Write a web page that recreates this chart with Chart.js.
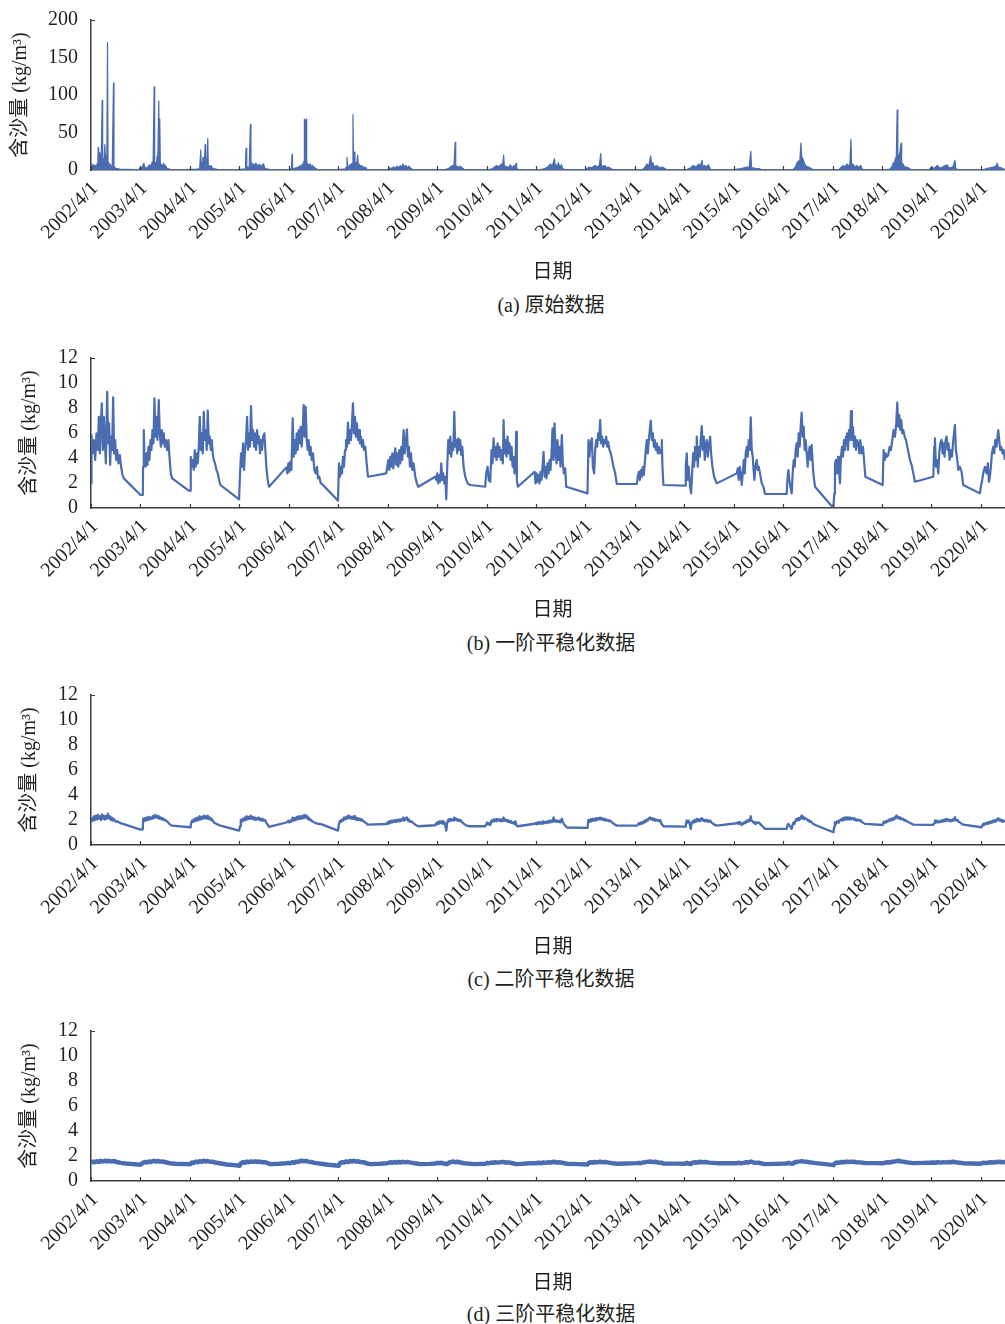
<!DOCTYPE html>
<html>
<head>
<meta charset="utf-8">
<script src="https://cdn.jsdelivr.net/npm/chart.js@4.4.1/dist/chart.umd.min.js"></script>
<style>
  html, body { margin: 0; padding: 0; background: #fff; overflow: hidden; }
  #page { position: relative; width: 1005px; height: 1324px; overflow: hidden; background: #fff; }
  .panel { position: absolute; left: 0; width: 1014px; height: 290px; }
  .caption { position: absolute; left: 401px; width: 300px; text-align: center; line-height: 24px;
             font: 20px "Liberation Serif", "Noto Sans CJK SC", serif; color: #231f20; }
</style>
</head>
<body>
<div id="page"></div>
<script>
// Tick labels on the date axis (one per hydrological year, starting 1 April)
const yearLabels = ['2002/4/1','2003/4/1','2004/4/1','2005/4/1','2006/4/1','2007/4/1','2008/4/1',
  '2009/4/1','2010/4/1','2011/4/1','2012/4/1','2013/4/1','2014/4/1','2015/4/1','2016/4/1',
  '2017/4/1','2018/4/1','2019/4/1','2020/4/1'];

const panelCaptions = ['(a) 原始数据', '(b) 一阶平稳化数据', '(c) 二阶平稳化数据', '(d) 三阶平稳化数据'];

// Sediment concentration (kg/m³) vs. decimal year — raw record
const rawSeries = [
[2002.253,5],[2002.27,8],[2002.29,3],[2002.307,7],[2002.325,4],[2002.341,6],[2002.36,3],[2002.375,9],[2002.388,4],[2002.395,30],[2002.405,8],[2002.422,23],[2002.432,10],[2002.442,21],[2002.455,6],[2002.476,93],[2002.486,10],[2002.496,15],[2002.51,5],[2002.530,34],[2002.543,9],[2002.557,19],[2002.57,6],[2002.584,170],[2002.595,8],[2002.610,10],[2002.625,4],[2002.644,8],[2002.66,3],[2002.68,5],[2002.705,116],[2002.715,4],[2002.725,4],[2002.75,2],[2002.779,2],[2002.85,1],[2002.914,1],[2003.217,0.5],
[2003.251,4],[2003.28,3],[2003.318,9],[2003.34,3],[2003.385,3],[2003.42,6],[2003.453,7],[2003.47,4],[2003.486,11],[2003.505,6],[2003.527,111],[2003.538,8],[2003.554,10],[2003.57,5],[2003.587,19],[2003.60,8],[2003.621,92],[2003.631,12],[2003.641,68],[2003.652,8],[2003.668,8],[2003.69,5],[2003.722,9],[2003.74,4],[2003.756,6],[2003.790,2],[2003.857,1],[2004.15,0.5],
[2004.261,1],[2004.35,1],[2004.430,1.5],[2004.45,3],[2004.470,27],[2004.48,5],[2004.490,10],[2004.50,4],[2004.517,17],[2004.53,6],[2004.545,8],[2004.558,34],[2004.568,6],[2004.578,15],[2004.59,5],[2004.612,42],[2004.622,6],[2004.639,6],[2004.66,3],[2004.679,6],[2004.70,3],[2004.733,2],[2004.80,1],[2005.2,0.5],
[2005.272,1],[2005.373,1.5],[2005.386,29],[2005.40,3],[2005.420,4],[2005.45,3],[2005.474,61],[2005.485,6],[2005.501,10],[2005.52,5],[2005.541,8],[2005.56,4],[2005.58,9],[2005.609,7],[2005.63,4],[2005.655,8],[2005.676,6],[2005.70,3],[2005.72,8],[2005.744,8],[2005.76,3],[2005.777,2],[2005.85,1],[2006.2,0.5],
[2006.283,1],[2006.305,2],[2006.316,21],[2006.326,2],[2006.350,2],[2006.40,3],[2006.451,4],[2006.48,6],[2006.50,4],[2006.518,8],[2006.535,5],[2006.552,10],[2006.560,12],[2006.566,68],[2006.580,60],[2006.592,66],[2006.606,68],[2006.613,12],[2006.620,10],[2006.64,5],[2006.66,8],[2006.687,8],[2006.71,4],[2006.73,6],[2006.754,4],[2006.822,1],[2007.2,0.5],
[2007.293,1],[2007.394,1.5],[2007.41,4],[2007.428,17],[2007.44,5],[2007.462,4],[2007.485,7],[2007.509,7],[2007.53,9],[2007.549,74],[2007.560,12],[2007.576,24],[2007.59,10],[2007.603,10],[2007.62,6],[2007.644,20],[2007.655,7],[2007.671,8],[2007.70,5],[2007.731,6],[2007.76,3],[2007.799,4],[2007.832,1],[2008.2,0.5],
[2008.270,1],[2008.30,3],[2008.33,2],[2008.371,4],[2008.40,2],[2008.439,5],[2008.47,3],[2008.506,6],[2008.53,3],[2008.56,8],[2008.59,4],[2008.62,6],[2008.65,3],[2008.68,5],[2008.72,2],[2008.76,1],[2009.3,0.5],
[2009.42,1],[2009.484,2],[2009.52,4],[2009.562,6],[2009.59,4],[2009.616,37],[2009.628,5],[2009.663,5],[2009.69,3],[2009.717,5],[2009.795,1],[2010.3,0.5],
[2010.379,2],[2010.41,4],[2010.457,6],[2010.50,4],[2010.551,8],[2010.575,5],[2010.597,20],[2010.61,5],[2010.652,5],[2010.69,3],[2010.730,7],[2010.77,3],[2010.808,6],[2010.83,3],[2010.847,9],[2010.86,2],[2010.885,1],[2011.35,0.5],
[2011.431,2],[2011.49,4],[2011.547,8],[2011.58,5],[2011.625,15],[2011.64,5],[2011.664,7],[2011.685,4],[2011.703,10],[2011.73,4],[2011.766,7],[2011.79,2],[2011.820,1],[2012.25,0.5],
[2012.326,4],[2012.38,3],[2012.443,6],[2012.50,4],[2012.535,7],[2012.560,22],[2012.575,6],[2012.610,5],[2012.638,6],[2012.68,3],[2012.716,4],[2012.793,1],[2013.35,0.5],
[2013.417,1],[2013.46,4],[2013.494,8],[2013.53,5],[2013.572,19],[2013.590,6],[2013.611,10],[2013.65,4],[2013.689,6],[2013.75,3],[2013.806,4],[2013.884,1],[2014.25,0.5],
[2014.312,1],[2014.38,3],[2014.429,6],[2014.49,4],[2014.546,8],[2014.58,5],[2014.608,13],[2014.63,4],[2014.663,6],[2014.70,4],[2014.741,7],[2014.780,1],[2015.25,0.5],
[2015.286,1],[2015.40,2],[2015.519,4],[2015.56,3],[2015.597,25],[2015.610,3],[2015.636,3],[2015.70,2],[2015.753,2],[2015.80,1],[2016.3,0.5],
[2016.454,1],[2016.50,4],[2016.532,10],[2016.57,12],[2016.590,14],[2016.610,36],[2016.625,18],[2016.649,15],[2016.687,8],[2016.72,5],[2016.765,4],[2016.843,1],[2017.3,0.5],
[2017.388,1],[2017.43,4],[2017.466,6],[2017.50,4],[2017.544,8],[2017.58,5],[2017.600,8],[2017.622,41],[2017.635,6],[2017.661,8],[2017.70,4],[2017.739,6],[2017.78,3],[2017.817,6],[2017.856,1],[2018.3,0.5],
[2018.401,1],[2018.45,4],[2018.479,10],[2018.50,8],[2018.518,15],[2018.540,18],[2018.557,80],[2018.570,20],[2018.596,19],[2018.615,25],[2018.635,36],[2018.648,10],[2018.674,8],[2018.71,4],[2018.752,4],[2018.830,1],[2019.2,0.5],
[2019.258,4],[2019.30,2],[2019.374,6],[2019.41,3],[2019.452,3],[2019.50,5],[2019.569,7],[2019.60,3],[2019.647,3],[2019.69,5],[2019.725,13],[2019.74,3],[2019.764,1],[2020.3,0.5],
[2020.426,3],[2020.50,4],[2020.55,5],[2020.582,9],[2020.60,4],[2020.659,3],[2020.722,1],[2020.80,1]
];

// First-order stationarised series
const firstOrder = [
[2002.253,1.97],[2002.260,5.84],[2002.280,4.37],[2002.307,5.44],[2002.334,3.84],[2002.361,5.97],[2002.388,4.64],[2002.408,7.3],[2002.429,4.37],[2002.449,6.77],[2002.469,8.37],[2002.489,4.64],[2002.509,7.3],[2002.530,5.44],[2002.550,3.57],[2002.577,9.3],[2002.597,5.17],[2002.617,6.77],[2002.637,3.44],[2002.658,5.71],[2002.678,4.64],[2002.698,8.85],[2002.718,4.37],[2002.738,5.44],[2002.759,3.84],[2002.779,4.64],[2002.806,3.57],[2002.833,4.24],[2002.860,3.3],[2002.887,2.64],[2002.914,2.37],[2003.251,1.04],[2003.298,1.04],
[2003.304,3.3],[2003.318,6.24],[2003.331,4.1],[2003.352,3.3],[2003.372,4.37],[2003.392,3.44],[2003.412,4.9],[2003.432,3.84],[2003.453,5.44],[2003.473,4.64],[2003.493,6.24],[2003.513,5.17],[2003.533,8.77],[2003.554,5.71],[2003.574,7.3],[2003.594,5.44],[2003.621,8.64],[2003.641,5.97],[2003.662,4.9],[2003.682,6.24],[2003.702,5.17],[2003.722,5.97],[2003.742,4.9],[2003.763,5.44],[2003.790,4.64],[2003.816,5.44],[2003.837,4.1],[2003.864,2.77],[2003.891,2.37],[2004.228,1.39],[2004.255,1.39],
[2004.268,4.1],[2004.288,3.3],[2004.309,3.84],[2004.329,3.04],[2004.349,4.64],[2004.369,3.3],[2004.389,4.37],[2004.410,3.57],[2004.430,4.9],[2004.450,7.3],[2004.470,4.64],[2004.490,5.97],[2004.511,4.37],[2004.531,7.7],[2004.551,5.44],[2004.571,6.24],[2004.591,4.64],[2004.612,7.79],[2004.632,5.17],[2004.652,5.71],[2004.672,4.64],[2004.692,5.44],[2004.713,4.37],[2004.733,3.84],[2004.760,3.57],[2004.787,3.04],[2004.814,2.77],[2004.841,2.24],[2004.868,1.84],[2005.245,0.69],
[2005.265,2.77],[2005.285,4.37],[2005.306,3.3],[2005.326,5.17],[2005.346,3.04],[2005.366,4.64],[2005.386,5.44],[2005.407,7.3],[2005.427,4.64],[2005.447,5.97],[2005.467,4.9],[2005.487,8.16],[2005.508,5.44],[2005.528,6.24],[2005.548,4.9],[2005.568,5.97],[2005.588,4.64],[2005.609,6.24],[2005.629,5.17],[2005.649,5.71],[2005.669,4.37],[2005.689,5.44],[2005.710,4.64],[2005.730,5.71],[2005.757,5.97],[2005.777,4.64],[2005.797,3.3],[2005.824,2.24],[2005.851,1.7],[2006.202,3.25],
[2006.222,2.77],[2006.242,3.57],[2006.262,2.9],[2006.282,3.7],[2006.303,3.04],[2006.330,7.17],[2006.350,4.1],[2006.370,5.44],[2006.390,4.37],[2006.411,5.97],[2006.431,4.64],[2006.451,6.24],[2006.471,5.17],[2006.491,6.5],[2006.512,4.9],[2006.532,6.24],[2006.552,8.24],[2006.572,5.71],[2006.592,8.1],[2006.613,5.44],[2006.633,4.64],[2006.653,5.44],[2006.673,4.24],[2006.693,4.9],[2006.714,3.84],[2006.741,4.37],[2006.768,3.04],[2006.795,2.77],[2006.822,3.3],[2006.842,2.37],[2006.869,2.5],[2006.896,1.97],[2006.923,1.92],[2007.246,0.59],
[2007.266,3.57],[2007.287,2.5],[2007.307,3.3],[2007.327,2.77],[2007.347,4.1],[2007.367,3.3],[2007.388,4.64],[2007.408,5.44],[2007.428,4.9],[2007.448,6.83],[2007.468,5.17],[2007.489,6.24],[2007.509,5.44],[2007.529,6.77],[2007.549,8.37],[2007.569,5.97],[2007.590,7.3],[2007.610,5.71],[2007.630,6.77],[2007.650,5.44],[2007.671,6.24],[2007.691,5.17],[2007.711,5.71],[2007.731,4.9],[2007.751,5.44],[2007.772,4.64],[2007.799,4.9],[2007.826,3.57],[2007.853,2.5],[2008.223,2.77],
[2008.243,3.3],[2008.263,3.84],[2008.284,3.04],[2008.304,4.1],[2008.324,3.3],[2008.344,4.37],[2008.365,3.17],[2008.385,4.1],[2008.405,4.77],[2008.425,3.44],[2008.445,4.37],[2008.466,3.3],[2008.486,4.64],[2008.506,3.57],[2008.526,4.9],[2008.546,3.84],[2008.573,6.24],[2008.594,4.37],[2008.614,5.17],[2008.641,6.29],[2008.661,4.1],[2008.681,4.9],[2008.701,3.3],[2008.722,4.37],[2008.749,3.04],[2008.776,3.57],[2008.809,2.5],[2008.843,1.97],[2008.870,1.7],[2009.214,2.5],
[2009.234,2.24],[2009.254,2.77],[2009.274,1.97],[2009.294,2.64],[2009.315,2.1],[2009.335,3.57],[2009.355,2.24],[2009.375,2.77],[2009.396,1.97],[2009.416,2.5],[2009.436,0.69],[2009.456,3.3],[2009.476,5.44],[2009.497,4.37],[2009.517,5.71],[2009.537,4.1],[2009.557,5.17],[2009.578,4.64],[2009.598,7.7],[2009.618,4.9],[2009.638,5.44],[2009.658,4.37],[2009.679,5.57],[2009.699,4.64],[2009.719,5.44],[2009.739,4.24],[2009.760,4.9],[2009.786,3.3],[2009.820,2.5],[2009.867,1.97],[2009.921,1.84],[2010.224,1.7],
[2010.245,2.77],[2010.272,3.3],[2010.298,2.24],[2010.325,2.1],[2010.352,4.64],[2010.372,3.57],[2010.393,5.57],[2010.413,4.1],[2010.433,4.9],[2010.453,3.84],[2010.474,5.17],[2010.494,4.1],[2010.514,4.9],[2010.541,3.84],[2010.561,4.64],[2010.581,3.57],[2010.595,7.04],[2010.615,4.37],[2010.635,5.44],[2010.656,4.1],[2010.676,5.71],[2010.696,4.37],[2010.716,5.17],[2010.736,3.84],[2010.757,4.9],[2010.777,3.3],[2010.797,4.1],[2010.817,2.77],[2010.838,3.84],[2010.851,6.1],[2010.864,2.24],[2010.885,1.7],[2011.222,2.9],
[2011.242,1.97],[2011.262,2.77],[2011.282,2.1],[2011.303,2.64],[2011.323,1.97],[2011.343,2.9],[2011.363,2.24],[2011.383,3.3],[2011.404,4.5],[2011.424,2.5],[2011.444,3.3],[2011.464,2.37],[2011.485,3.57],[2011.505,2.77],[2011.525,3.84],[2011.545,3.04],[2011.565,4.37],[2011.586,6.37],[2011.606,3.84],[2011.626,6.77],[2011.646,4.64],[2011.666,3.57],[2011.687,5.44],[2011.707,3.84],[2011.727,4.9],[2011.747,3.3],[2011.774,5.84],[2011.794,3.57],[2011.815,2.77],[2011.842,3.17],[2011.862,1.7],[2012.293,1.17],
[2012.313,5.44],[2012.333,4.1],[2012.354,5.17],[2012.381,5.57],[2012.401,3.3],[2012.428,2.77],[2012.448,4.64],[2012.468,5.44],[2012.489,4.9],[2012.509,5.97],[2012.529,5.44],[2012.549,7.04],[2012.570,5.17],[2012.590,5.71],[2012.610,4.9],[2012.630,5.44],[2012.650,5.17],[2012.671,5.71],[2012.691,4.9],[2012.711,5.3],[2012.738,4.64],[2012.765,4.37],[2012.792,3.84],[2012.819,3.3],[2012.853,2.77],[2012.886,1.92],[2013.290,1.92],
[2013.310,2.5],[2013.331,2.9],[2013.351,2.24],[2013.371,3.04],[2013.391,2.5],[2013.411,3.3],[2013.432,2.64],[2013.452,3.57],[2013.472,4.64],[2013.492,5.44],[2013.513,4.37],[2013.533,5.44],[2013.553,6.24],[2013.573,6.99],[2013.593,5.44],[2013.614,5.97],[2013.634,4.9],[2013.654,5.44],[2013.674,4.64],[2013.694,5.17],[2013.715,4.37],[2013.735,4.9],[2013.762,4.37],[2013.782,4.64],[2013.796,5.44],[2013.809,3.3],[2013.829,1.84],[2014.267,1.79],
[2014.281,3.3],[2014.301,4.37],[2014.321,2.24],[2014.341,3.3],[2014.368,1.7],[2014.389,1.17],[2014.409,2.77],[2014.429,4.37],[2014.449,3.3],[2014.469,4.9],[2014.490,3.84],[2014.503,5.71],[2014.523,3.3],[2014.544,4.9],[2014.564,4.1],[2014.584,5.44],[2014.604,6.56],[2014.624,4.64],[2014.645,5.71],[2014.665,3.84],[2014.685,4.9],[2014.705,5.44],[2014.726,4.1],[2014.746,4.9],[2014.773,5.71],[2014.793,4.37],[2014.820,3.3],[2014.854,2.5],[2014.907,1.97],[2015.312,2.77],
[2015.332,3.17],[2015.352,2.24],[2015.372,3.3],[2015.392,2.77],[2015.413,1.84],[2015.433,2.77],[2015.453,3.84],[2015.473,2.77],[2015.493,4.37],[2015.514,4.9],[2015.534,4.1],[2015.554,5.44],[2015.574,4.64],[2015.595,7.25],[2015.615,4.64],[2015.635,4.1],[2015.648,3.3],[2015.669,2.24],[2015.689,3.3],[2015.716,3.84],[2015.736,3.04],[2015.756,3.3],[2015.783,2.77],[2015.817,1.97],[2015.851,1.7],[2015.884,1.12],[2016.322,1.12],
[2016.336,2.24],[2016.356,3.04],[2016.376,2.24],[2016.396,1.7],[2016.423,1.17],[2016.443,2.77],[2016.464,3.84],[2016.484,3.3],[2016.504,4.64],[2016.524,5.17],[2016.545,4.1],[2016.565,5.97],[2016.585,4.9],[2016.605,6.5],[2016.625,7.63],[2016.646,5.71],[2016.666,6.5],[2016.686,4.64],[2016.706,5.44],[2016.726,4.37],[2016.747,3.3],[2016.767,4.37],[2016.787,4.9],[2016.807,3.84],[2016.828,5.04],[2016.848,3.57],[2016.861,2.77],[2016.895,1.7],[2017.265,0],
[2017.286,1.17],[2017.299,3.57],[2017.319,3.84],[2017.340,2.77],[2017.360,4.1],[2017.380,3.04],[2017.400,1.97],[2017.420,4.1],[2017.441,4.9],[2017.461,4.1],[2017.481,5.44],[2017.501,4.64],[2017.522,5.71],[2017.542,5.97],[2017.562,4.64],[2017.582,6.24],[2017.602,5.44],[2017.623,7.76],[2017.643,5.44],[2017.663,6.5],[2017.683,4.9],[2017.703,5.71],[2017.724,4.64],[2017.744,5.44],[2017.771,5.17],[2017.791,4.37],[2017.811,5.44],[2017.838,4.37],[2017.865,4.9],[2017.892,3.57],[2017.913,2.5],[2018.263,1.84],
[2018.283,4.64],[2018.303,3.84],[2018.323,4.37],[2018.350,4.1],[2018.377,4.24],[2018.404,4.9],[2018.431,4.64],[2018.458,5.44],[2018.485,6.24],[2018.512,5.71],[2018.539,6.77],[2018.559,8.43],[2018.580,6.5],[2018.600,7.44],[2018.620,6.24],[2018.640,7.04],[2018.660,5.97],[2018.681,6.24],[2018.708,5.71],[2018.735,5.44],[2018.762,4.9],[2018.789,4.37],[2018.816,3.84],[2018.849,3.44],[2018.883,2.77],[2018.917,2.1],[2019.287,2.5],
[2019.307,4.9],[2019.321,5.57],[2019.341,3.3],[2019.361,3.84],[2019.388,2.77],[2019.408,4.37],[2019.429,5.17],[2019.456,5.44],[2019.476,4.37],[2019.496,5.17],[2019.516,4.1],[2019.536,5.44],[2019.557,5.71],[2019.577,4.64],[2019.597,5.17],[2019.617,3.84],[2019.638,4.64],[2019.665,4.1],[2019.692,5.44],[2019.725,6.64],[2019.745,4.64],[2019.766,4.1],[2019.793,3.04],[2019.826,3.3],[2019.860,2.9],[2019.893,1.84],[2020.230,1.17],
[2020.250,1.7],[2020.277,2.24],[2020.297,2.77],[2020.331,3.3],[2020.365,2.77],[2020.392,3.57],[2020.412,2.1],[2020.432,2.5],[2020.453,3.3],[2020.473,4.37],[2020.500,4.9],[2020.520,4.37],[2020.540,5.44],[2020.567,4.9],[2020.601,6.24],[2020.621,5.44],[2020.641,4.64],[2020.661,4.9],[2020.688,4.37],[2020.709,4.64],[2020.736,3.84]
];

// Second-order stationarised series
const secondOrder = [
[2002.253,1.9],[2002.27,2.15],[2002.29,1.95],[2002.31,2.3],[2002.33,2.0],[2002.35,2.35],[2002.37,2.05],[2002.39,2.4],[2002.41,2.1],[2002.43,2.3],[2002.45,2.0],[2002.47,2.45],[2002.49,2.1],[2002.51,2.35],[2002.53,2.05],[2002.55,2.3],[2002.57,2.1],[2002.59,2.5],[2002.61,2.15],[2002.63,2.3],[2002.65,2.0],[2002.67,2.2],[2002.69,1.95],[2002.71,2.1],[2002.73,1.95],[2002.75,1.85],[2002.78,1.9],[2002.82,1.8],[2002.85,1.75],[2003.25,1.23],[2003.298,1.25],
[2003.305,2.1],[2003.32,1.9],[2003.34,2.15],[2003.36,1.95],[2003.38,2.2],[2003.40,2.0],[2003.42,2.25],[2003.44,2.05],[2003.46,2.2],[2003.48,2.1],[2003.50,2.3],[2003.52,2.15],[2003.54,2.4],[2003.56,2.2],[2003.58,2.35],[2003.60,2.15],[2003.62,2.3],[2003.64,2.1],[2003.66,2.2],[2003.68,2.05],[2003.70,2.15],[2003.72,2.0],[2003.74,2.05],[2003.76,1.95],[2003.79,1.9],[2003.82,1.75],[2003.86,1.6],[2003.89,1.55],[2004.255,1.42],
[2004.268,1.55],[2004.29,1.95],[2004.31,1.85],[2004.33,2.05],[2004.35,1.9],[2004.37,2.15],[2004.39,1.95],[2004.41,2.2],[2004.43,2.0],[2004.45,2.3],[2004.47,2.05],[2004.49,2.25],[2004.51,2.1],[2004.53,2.35],[2004.55,2.15],[2004.57,2.3],[2004.59,2.1],[2004.61,2.35],[2004.63,2.1],[2004.65,2.2],[2004.67,2.0],[2004.69,2.1],[2004.72,1.9],[2004.75,1.75],[2004.79,1.7],[2004.83,1.6],[2004.87,1.55],[2005.245,1.15],
[2005.265,1.5],[2005.28,2.0],[2005.30,1.85],[2005.32,2.1],[2005.34,1.95],[2005.36,2.2],[2005.38,2.0],[2005.40,2.3],[2005.42,2.05],[2005.44,2.25],[2005.46,2.1],[2005.48,2.35],[2005.50,2.1],[2005.52,2.25],[2005.54,2.05],[2005.56,2.2],[2005.58,2.0],[2005.60,2.15],[2005.62,2.05],[2005.64,2.2],[2005.66,2.0],[2005.68,2.1],[2005.70,1.95],[2005.72,2.1],[2005.74,1.95],[2005.77,2.0],[2005.80,1.75],[2005.85,1.45],[2006.202,1.8],
[2006.222,1.85],[2006.24,1.95],[2006.26,1.8],[2006.28,1.95],[2006.30,1.85],[2006.33,2.2],[2006.35,1.95],[2006.37,2.15],[2006.39,2.0],[2006.41,2.25],[2006.43,2.05],[2006.45,2.3],[2006.47,2.1],[2006.49,2.3],[2006.51,2.1],[2006.53,2.35],[2006.55,2.15],[2006.57,2.4],[2006.59,2.2],[2006.61,2.35],[2006.63,2.1],[2006.65,2.2],[2006.67,2.0],[2006.69,2.05],[2006.72,1.9],[2006.75,1.85],[2006.79,1.75],[2006.84,1.7],[2006.92,1.65],[2007.246,1.15],
[2007.266,1.7],[2007.29,1.95],[2007.31,1.85],[2007.33,2.05],[2007.35,1.95],[2007.37,2.2],[2007.39,2.05],[2007.41,2.25],[2007.43,2.1],[2007.45,2.35],[2007.47,2.15],[2007.49,2.3],[2007.51,2.1],[2007.53,2.25],[2007.55,2.1],[2007.57,2.3],[2007.59,2.05],[2007.61,2.2],[2007.63,2.0],[2007.65,2.15],[2007.67,2.0],[2007.69,2.1],[2007.71,1.95],[2007.73,2.05],[2007.76,1.9],[2007.80,1.8],[2007.85,1.63],[2008.22,1.68],
[2008.243,1.8],[2008.26,1.7],[2008.28,1.9],[2008.30,1.75],[2008.32,1.95],[2008.34,1.8],[2008.36,1.95],[2008.38,1.85],[2008.40,2.0],[2008.42,1.85],[2008.44,2.0],[2008.46,1.9],[2008.48,2.05],[2008.50,1.9],[2008.52,2.05],[2008.54,1.95],[2008.57,2.2],[2008.59,1.95],[2008.61,2.1],[2008.64,2.2],[2008.66,1.95],[2008.68,2.05],[2008.70,1.85],[2008.73,1.9],[2008.77,1.75],[2008.82,1.6],[2008.87,1.5],[2009.214,1.58],
[2009.234,1.75],[2009.25,1.65],[2009.27,1.85],[2009.29,1.7],[2009.31,1.9],[2009.33,1.75],[2009.35,1.9],[2009.37,1.7],[2009.39,1.85],[2009.41,1.7],[2009.436,1.15],[2009.456,1.8],[2009.48,2.05],[2009.50,1.9],[2009.52,2.1],[2009.54,1.95],[2009.56,2.05],[2009.58,1.95],[2009.60,2.2],[2009.62,2.0],[2009.64,2.1],[2009.66,1.95],[2009.68,2.05],[2009.70,1.9],[2009.72,2.0],[2009.75,1.85],[2009.79,1.7],[2009.85,1.55],[2009.92,1.5],[2010.224,1.5],
[2010.245,1.65],[2010.26,1.8],[2010.28,1.65],[2010.30,1.75],[2010.325,1.6],[2010.35,1.95],[2010.37,1.85],[2010.39,2.05],[2010.41,1.9],[2010.43,2.05],[2010.45,1.9],[2010.47,2.1],[2010.49,1.95],[2010.51,2.05],[2010.53,1.9],[2010.55,2.05],[2010.57,1.9],[2010.595,2.2],[2010.61,1.95],[2010.63,2.05],[2010.65,1.9],[2010.67,2.0],[2010.69,1.85],[2010.71,1.95],[2010.73,1.8],[2010.75,1.9],[2010.77,1.75],[2010.79,1.8],[2010.81,1.7],[2010.835,1.9],[2010.85,1.6],[2010.885,1.5],[2011.22,1.7],
[2011.24,1.75],[2011.26,1.65],[2011.28,1.8],[2011.30,1.7],[2011.32,1.85],[2011.34,1.7],[2011.36,1.8],[2011.38,1.7],[2011.40,1.9],[2011.42,1.75],[2011.44,1.85],[2011.46,1.75],[2011.48,1.9],[2011.50,1.8],[2011.52,1.95],[2011.54,1.8],[2011.56,1.95],[2011.58,1.85],[2011.606,2.2],[2011.62,1.9],[2011.64,2.0],[2011.66,1.85],[2011.68,1.95],[2011.70,1.85],[2011.72,1.95],[2011.74,1.8],[2011.775,2.1],[2011.79,1.85],[2011.83,1.6],[2011.876,1.4],[2012.293,1.37],
[2012.313,2.0],[2012.33,1.85],[2012.35,2.05],[2012.37,1.9],[2012.39,2.1],[2012.41,1.95],[2012.43,2.1],[2012.45,1.95],[2012.47,2.15],[2012.49,2.0],[2012.51,2.15],[2012.53,2.05],[2012.549,2.2],[2012.57,2.05],[2012.59,2.15],[2012.61,2.0],[2012.63,2.1],[2012.65,1.95],[2012.67,2.05],[2012.69,1.95],[2012.71,2.0],[2012.73,1.9],[2012.751,1.96],[2012.79,1.8],[2012.84,1.65],[2012.886,1.55],[2013.29,1.55],
[2013.31,1.6],[2013.33,1.75],[2013.35,1.65],[2013.37,1.8],[2013.39,1.7],[2013.41,1.85],[2013.43,1.75],[2013.45,1.95],[2013.47,1.85],[2013.49,2.05],[2013.51,1.95],[2013.53,2.1],[2013.56,2.2],[2013.58,2.05],[2013.60,2.15],[2013.62,2.0],[2013.64,2.1],[2013.66,1.95],[2013.68,2.05],[2013.70,1.95],[2013.72,2.0],[2013.74,1.9],[2013.762,2.0],[2013.79,1.7],[2013.83,1.5],[2014.268,1.47],
[2014.281,1.6],[2014.301,1.96],[2014.32,1.8],[2014.34,1.95],[2014.36,1.7],[2014.382,1.29],[2014.40,1.75],[2014.42,1.9],[2014.44,1.8],[2014.46,2.0],[2014.48,1.85],[2014.503,2.09],[2014.52,1.9],[2014.54,2.05],[2014.56,1.9],[2014.58,2.05],[2014.604,2.15],[2014.62,1.95],[2014.64,2.05],[2014.66,1.9],[2014.68,2.0],[2014.70,1.9],[2014.72,2.0],[2014.74,1.85],[2014.773,1.96],[2014.80,1.8],[2014.85,1.65],[2014.907,1.55],[2015.312,1.74],
[2015.33,1.8],[2015.35,1.7],[2015.37,1.85],[2015.39,1.7],[2015.41,1.6],[2015.43,1.75],[2015.446,1.69],[2015.47,1.85],[2015.49,1.75],[2015.51,1.95],[2015.53,1.85],[2015.547,2.01],[2015.57,1.9],[2015.595,2.3],[2015.61,1.95],[2015.63,1.9],[2015.65,1.8],[2015.665,1.85],[2015.682,1.69],[2015.70,1.8],[2015.72,1.75],[2015.75,1.82],[2015.78,1.7],[2015.81,1.6],[2015.85,1.42],[2015.885,1.29],[2016.322,1.29],
[2016.336,1.55],[2016.356,1.69],[2016.38,1.55],[2016.40,1.45],[2016.423,1.29],[2016.44,1.6],[2016.46,1.8],[2016.48,1.7],[2016.50,1.95],[2016.524,2.09],[2016.54,1.95],[2016.56,2.15],[2016.58,2.0],[2016.60,2.2],[2016.625,2.36],[2016.64,2.1],[2016.66,2.25],[2016.68,2.05],[2016.70,2.15],[2016.726,2.09],[2016.75,1.95],[2016.77,2.0],[2016.79,1.85],[2016.81,1.9],[2016.84,1.75],[2016.861,1.69],[2016.90,1.6],[2017.266,1.02],
[2017.286,1.5],[2017.299,1.82],[2017.32,1.7],[2017.34,1.9],[2017.36,1.8],[2017.38,1.95],[2017.40,1.96],[2017.42,2.05],[2017.44,1.95],[2017.46,2.15],[2017.48,2.0],[2017.50,2.2],[2017.52,2.05],[2017.535,2.22],[2017.55,2.05],[2017.57,2.2],[2017.59,2.05],[2017.61,2.2],[2017.63,2.05],[2017.65,2.15],[2017.67,2.15],[2017.69,2.0],[2017.71,2.1],[2017.73,1.95],[2017.75,2.05],[2017.78,1.95],[2017.805,2.01],[2017.84,1.85],[2017.88,1.75],[2017.906,1.69],[2018.263,1.6],
[2018.283,1.85],[2018.30,1.75],[2018.32,1.9],[2018.344,1.82],[2018.36,1.95],[2018.38,1.9],[2018.40,2.05],[2018.42,1.95],[2018.44,2.1],[2018.46,2.0],[2018.48,2.15],[2018.50,2.05],[2018.52,2.25],[2018.546,2.36],[2018.56,2.15],[2018.58,2.25],[2018.60,2.1],[2018.62,2.2],[2018.64,2.05],[2018.66,2.1],[2018.68,2.09],[2018.70,1.95],[2018.72,2.0],[2018.75,1.9],[2018.78,1.85],[2018.82,1.75],[2018.85,1.7],[2018.883,1.63],[2019.287,1.61],
[2019.307,1.75],[2019.321,1.96],[2019.34,1.8],[2019.36,1.95],[2019.38,1.8],[2019.40,1.9],[2019.422,1.82],[2019.44,1.95],[2019.46,1.85],[2019.48,2.0],[2019.50,1.9],[2019.52,2.05],[2019.54,1.9],[2019.557,2.09],[2019.58,1.95],[2019.60,2.05],[2019.62,1.9],[2019.64,2.0],[2019.66,1.9],[2019.68,2.05],[2019.70,1.95],[2019.725,2.22],[2019.74,2.0],[2019.76,1.95],[2019.78,2.0],[2019.80,1.85],[2019.826,1.82],[2019.86,1.7],[2019.893,1.63],[2020.264,1.42],
[2020.28,1.55],[2020.30,1.7],[2020.32,1.6],[2020.34,1.75],[2020.365,1.69],[2020.38,1.8],[2020.40,1.7],[2020.42,1.85],[2020.44,1.75],[2020.46,1.9],[2020.48,1.8],[2020.50,1.96],[2020.52,1.85],[2020.54,2.0],[2020.56,1.9],[2020.58,2.05],[2020.60,2.15],[2020.62,1.95],[2020.64,2.05],[2020.66,1.9],[2020.68,2.0],[2020.70,1.85],[2020.72,1.95],[2020.74,1.9]
];

// Third-order stationarised series
const thirdOrder = [
[2002.253,1.45],[2002.29,1.55],[2002.33,1.5],[2002.37,1.58],[2002.41,1.52],[2002.45,1.62],[2002.49,1.56],[2002.53,1.62],[2002.57,1.57],[2002.61,1.62],[2002.65,1.56],[2002.71,1.6],[2002.77,1.52],[2002.85,1.45],[2002.95,1.4],[2003.1,1.35],[2003.25,1.3],
[2003.30,1.45],[2003.34,1.52],[2003.38,1.48],[2003.42,1.56],[2003.46,1.52],[2003.52,1.62],[2003.56,1.56],[2003.60,1.6],[2003.64,1.55],[2003.70,1.56],[2003.76,1.5],[2003.84,1.42],[2003.95,1.38],[2004.1,1.36],[2004.26,1.35],
[2004.29,1.48],[2004.33,1.45],[2004.37,1.55],[2004.41,1.5],[2004.45,1.58],[2004.49,1.54],[2004.53,1.62],[2004.57,1.56],[2004.61,1.6],[2004.65,1.54],[2004.70,1.55],[2004.76,1.48],[2004.85,1.42],[2005.0,1.32],[2005.15,1.27],[2005.26,1.22],
[2005.28,1.42],[2005.32,1.5],[2005.36,1.46],[2005.40,1.55],[2005.44,1.5],[2005.48,1.56],[2005.54,1.54],[2005.58,1.57],[2005.62,1.52],[2005.66,1.55],[2005.72,1.5],[2005.78,1.5],[2005.84,1.4],[2005.88,1.35],[2006.05,1.38],[2006.2,1.42],
[2006.24,1.45],[2006.28,1.42],[2006.32,1.5],[2006.36,1.46],[2006.40,1.55],[2006.44,1.52],[2006.48,1.6],[2006.52,1.62],[2006.56,1.57],[2006.60,1.61],[2006.64,1.55],[2006.70,1.52],[2006.78,1.45],[2006.90,1.38],[2007.05,1.3],[2007.26,1.22],
[2007.29,1.45],[2007.33,1.5],[2007.37,1.48],[2007.41,1.56],[2007.45,1.52],[2007.49,1.6],[2007.53,1.56],[2007.56,1.62],[2007.60,1.56],[2007.64,1.58],[2007.70,1.52],[2007.76,1.5],[2007.84,1.4],[2007.90,1.35],[2008.1,1.38],[2008.23,1.42],
[2008.27,1.45],[2008.31,1.5],[2008.35,1.46],[2008.39,1.52],[2008.43,1.47],[2008.47,1.52],[2008.51,1.48],[2008.55,1.53],[2008.60,1.5],[2008.65,1.53],[2008.72,1.47],[2008.80,1.42],[2008.91,1.35],[2009.1,1.37],[2009.22,1.4],
[2009.26,1.45],[2009.30,1.42],[2009.34,1.46],[2009.38,1.4],[2009.45,1.35],[2009.50,1.48],[2009.54,1.52],[2009.58,1.56],[2009.62,1.5],[2009.66,1.54],[2009.72,1.48],[2009.80,1.42],[2009.99,1.35],[2010.23,1.38],
[2010.27,1.45],[2010.31,1.42],[2010.35,1.48],[2010.39,1.46],[2010.43,1.5],[2010.47,1.47],[2010.53,1.5],[2010.58,1.53],[2010.63,1.48],[2010.70,1.48],[2010.78,1.42],[2010.86,1.35],[2011.05,1.4],[2011.20,1.43],
[2011.25,1.42],[2011.30,1.46],[2011.35,1.42],[2011.40,1.48],[2011.45,1.45],[2011.50,1.5],[2011.56,1.48],[2011.61,1.54],[2011.66,1.48],[2011.72,1.5],[2011.78,1.46],[2011.88,1.38],[2012.1,1.35],[2012.29,1.32],
[2012.32,1.45],[2012.36,1.5],[2012.40,1.47],[2012.44,1.52],[2012.48,1.49],[2012.55,1.54],[2012.60,1.5],[2012.66,1.52],[2012.72,1.47],[2012.80,1.42],[2012.89,1.38],[2013.1,1.4],[2013.29,1.43],
[2013.33,1.45],[2013.37,1.42],[2013.41,1.48],[2013.45,1.5],[2013.50,1.53],[2013.56,1.56],[2013.61,1.51],[2013.66,1.54],[2013.72,1.48],[2013.78,1.46],[2013.83,1.4],[2014.05,1.39],[2014.27,1.38],
[2014.30,1.45],[2014.34,1.4],[2014.38,1.36],[2014.42,1.46],[2014.47,1.5],[2014.52,1.48],[2014.57,1.54],[2014.62,1.5],[2014.68,1.52],[2014.75,1.47],[2014.82,1.45],[2014.91,1.43],[2015.1,1.43],[2015.31,1.43],
[2015.35,1.46],[2015.40,1.42],[2015.45,1.45],[2015.50,1.5],[2015.55,1.48],[2015.60,1.56],[2015.65,1.48],[2015.70,1.45],[2015.76,1.46],[2015.82,1.4],[2015.88,1.35],[2016.1,1.37],[2016.32,1.4],
[2016.36,1.45],[2016.40,1.4],[2016.44,1.38],[2016.48,1.48],[2016.52,1.52],[2016.56,1.55],[2016.60,1.57],[2016.63,1.59],[2016.67,1.55],[2016.72,1.54],[2016.78,1.5],[2016.84,1.47],[2016.90,1.43],[2017.1,1.35],[2017.27,1.27],
[2017.30,1.42],[2017.33,1.48],[2017.38,1.46],[2017.43,1.52],[2017.48,1.5],[2017.53,1.55],[2017.58,1.52],[2017.63,1.55],[2017.67,1.54],[2017.73,1.5],[2017.80,1.49],[2017.90,1.44],[2018.1,1.43],[2018.28,1.43],
[2018.31,1.46],[2018.36,1.5],[2018.41,1.48],[2018.46,1.54],[2018.52,1.57],[2018.58,1.62],[2018.63,1.56],[2018.68,1.55],[2018.74,1.5],[2018.80,1.47],[2018.88,1.43],[2019.1,1.45],[2019.29,1.48],
[2019.33,1.46],[2019.38,1.5],[2019.43,1.47],[2019.48,1.5],[2019.54,1.49],[2019.60,1.52],[2019.65,1.5],[2019.69,1.54],[2019.74,1.5],[2019.82,1.46],[2019.90,1.42],[2020.05,1.4],[2020.23,1.38],
[2020.27,1.42],[2020.31,1.46],[2020.36,1.43],[2020.41,1.48],[2020.46,1.5],[2020.52,1.48],[2020.57,1.52],[2020.63,1.54],[2020.68,1.5],[2020.74,1.52]
];

// ---- drawing ----
const X_MIN = 2002.25;          // 2002/4/1
const X_MAX = 2020.92;
const LINE = '#4a6cb0';
const AXIS = '#3c3c3c';
const INK = '#231f20';
const FONT = { family: '"Liberation Serif", "Noto Sans CJK SC", serif', size: 20 };
const panelTops = [-5, 333, 670, 1006];
const captionTops = [289, 627, 963, 1298];

const panels = [
  { series: rawSeries,   yMax: 200, yStep: 50, width: 1.2, fill: true,  titlePad: 9 },
  { series: firstOrder,  yMax: 12,  yStep: 2,  width: 2.2, fill: false, titlePad: 18 },
  { series: secondOrder, yMax: 12,  yStep: 2,  width: 2.3, fill: false, titlePad: 18 },
  { series: thirdOrder,  yMax: 12,  yStep: 2,  width: 4.5, fill: false, titlePad: 18 }
];

// short inward tick marks on the date axis plus a cap at the top of the value axis
const innerTicks = {
  id: 'innerTicks',
  afterDraw(chart) {
    const { ctx, chartArea, scales: { x, y } } = chart;
    ctx.save();
    ctx.strokeStyle = AXIS;
    ctx.lineWidth = 1.2;
    ctx.beginPath();
    x.ticks.forEach((t, i) => {
      const px = Math.round(x.getPixelForTick(i)) + 0.5;
      ctx.moveTo(px, chartArea.bottom);
      ctx.lineTo(px, chartArea.bottom - 4);
    });
    const top = Math.round(y.getPixelForValue(y.max)) + 0.5;
    ctx.moveTo(chartArea.left, top);
    ctx.lineTo(chartArea.left + 4, top);
    ctx.stroke();
    ctx.restore();
  }
};

const page = document.getElementById('page');

panels.forEach((p, idx) => {
  const wrap = document.createElement('div');
  wrap.className = 'panel';
  wrap.style.top = panelTops[idx] + 'px';
  const cv = document.createElement('canvas');
  cv.width = 1014; cv.height = 290;
  cv.style.width = '1014px'; cv.style.height = '290px';
  wrap.appendChild(cv);
  page.appendChild(wrap);

  const cap = document.createElement('div');
  cap.className = 'caption';
  cap.style.top = captionTops[idx] + 'px';
  cap.textContent = panelCaptions[idx];
  page.appendChild(cap);

  new Chart(cv, {
    type: 'line',
    data: {
      datasets: [{
        data: p.series,
        borderColor: LINE,
        backgroundColor: LINE,
        borderWidth: p.width,
        fill: p.fill ? 'origin' : false,
        pointRadius: 0,
        tension: 0,
        borderJoinStyle: 'round'
      }]
    },
    options: {
      responsive: false,
      animation: false,
      events: [],
      layout: { padding: { top: 20, left: 0, right: 0, bottom: 0 } },
      plugins: { legend: { display: false }, tooltip: { enabled: false } },
      scales: {
        x: {
          type: 'linear',
          min: X_MIN,
          max: X_MAX,
          grid: { display: false, drawTicks: false },
          border: { display: true, color: AXIS, width: 1.5 },
          afterBuildTicks: s => { s.ticks = yearLabels.map((_, i) => ({ value: X_MIN + i })); },
          afterFit: s => { s.height = 115; },
          ticks: {
            autoSkip: false, minRotation: 45, maxRotation: 45, padding: 7, labelOffset: 4,
            font: FONT, color: INK,
            callback: (v, i) => yearLabels[i]
          },
          title: { display: true, text: '日期', font: FONT, color: INK, padding: { top: 0, bottom: 0 } }
        },
        y: {
          min: 0,
          max: p.yMax,
          grid: { display: false, drawTicks: false },
          border: { display: true, color: AXIS, width: 1.5 },
          afterFit: s => { s.width = 91; },
          ticks: { stepSize: p.yStep, autoSkip: false, padding: 13, font: FONT, color: INK },
          title: { display: true, text: '含沙量 (kg/m³)', font: FONT, color: INK,
                   padding: { top: p.titlePad, bottom: 0 } }
        }
      }
    },
    plugins: [innerTicks]
  });
});
</script>
</body>
</html>
